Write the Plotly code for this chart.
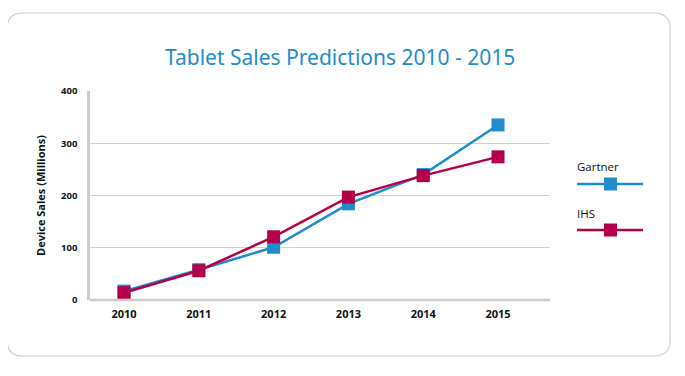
import plotly.graph_objects as go

years = [2010, 2011, 2012, 2013, 2014, 2015]
gartner = [17, 58, 101, 184, 240, 335]
ihs = [14, 56, 121, 197, 238, 274]
y_ticks = [0, 100, 200, 300, 400]

W, H = 685, 376
OFF = 8  # page body margin
L, R, T, B = 90 - OFF, 550 - OFF, 91 - OFF, 300 - OFF

def px(x):
    return (x - OFF - L) / (R - L)

def py(y):
    return (B - (y - OFF)) / (B - T)

BLUE = "#1f8ccb"
RED = "#b4004a"

fig = go.Figure()
fig.add_trace(go.Scatter(x=years, y=gartner, mode="lines+markers", name="Gartner",
                         line=dict(color=BLUE, width=2.5),
                         marker=dict(symbol="square", size=13, color=BLUE)))
fig.add_trace(go.Scatter(x=years, y=ihs, mode="lines+markers", name="IHS",
                         line=dict(color=RED, width=2.5),
                         marker=dict(symbol="square", size=13, color=RED)))

# rounded border
x0, y0, x1, y1, r = 7, 13, 670, 356, 16
path = (f"M {px(x0+r)},{py(y0)} L {px(x1-r)},{py(y0)} "
        f"Q {px(x1)},{py(y0)} {px(x1)},{py(y0+r)} L {px(x1)},{py(y1-r)} "
        f"Q {px(x1)},{py(y1)} {px(x1-r)},{py(y1)} L {px(x0+r)},{py(y1)} "
        f"Q {px(x0)},{py(y1)} {px(x0)},{py(y1-r)} L {px(x0)},{py(y0+r)} "
        f"Q {px(x0)},{py(y0)} {px(x0+r)},{py(y0)} Z")
shapes = [dict(type="path", path=path, xref="paper", yref="paper",
               line=dict(color="#cfcfcf", width=1.2), layer="below")]

# custom legend
annotations = []
for name, color, ty, ly in [("Gartner", BLUE, 166, 184), ("IHS", RED, 213, 230)]:
    shapes.append(dict(type="line", xref="paper", yref="paper",
                       x0=px(577), x1=px(643), y0=py(ly), y1=py(ly),
                       line=dict(color=color, width=2.5)))
    shapes.append(dict(type="rect", xref="paper", yref="paper",
                       x0=px(604), x1=px(617), y0=py(ly - 6.5), y1=py(ly + 6.5),
                       fillcolor=color, line=dict(width=0)))
    annotations.append(dict(text=name, xref="paper", yref="paper", x=px(575), y=py(ty),
                            xanchor="left", yanchor="middle", showarrow=False,
                            font=dict(family="Open Sans", size=11.5, color="#111")))

annotations.append(dict(text="Tablet Sales Predictions 2010 - 2015", xref="paper", yref="paper",
                        x=px(340), y=py(57), xanchor="center", yanchor="middle", showarrow=False,
                        font=dict(family="Noto Sans", size=21, color="#1f8ccb")))

fig.update_layout(
    width=W, height=H,
    margin=dict(l=L, r=W - R, t=T, b=H - B),
    paper_bgcolor="white", plot_bgcolor="white",
    showlegend=False,
    shapes=shapes, annotations=annotations,
    font=dict(family="Open Sans", color="#111"),
)
fig.update_xaxes(range=[2009.545, 2015.695], tickvals=years, ticktext=[str(y) for y in years],
                 showgrid=False, zeroline=False, showline=False,
                 tickfont=dict(family="Open Sans", size=11, color="#111", weight="bold"),
                 ticks="", ticklabelstandoff=6)
fig.update_yaxes(range=[0, 400], tickvals=y_ticks, showgrid=True, gridcolor="#d2d2d2", gridwidth=1,
                 zeroline=False, showline=True, linecolor="#cccccc", linewidth=2.5,
                 ticks="", tickfont=dict(family="Open Sans", size=9.5, color="#111", weight="bold"),
                 ticklabelstandoff=8,
                 title=dict(text="Device Sales (Millions)", standoff=14,
                            font=dict(family="Open Sans", size=11, color="#111", weight="bold")))
# bottom axis line
fig.add_shape(type="line", xref="paper", yref="paper", x0=0, x1=1, y0=0, y1=0,
              line=dict(color="#cccccc", width=2.5))

fig.write_html("out.html")
